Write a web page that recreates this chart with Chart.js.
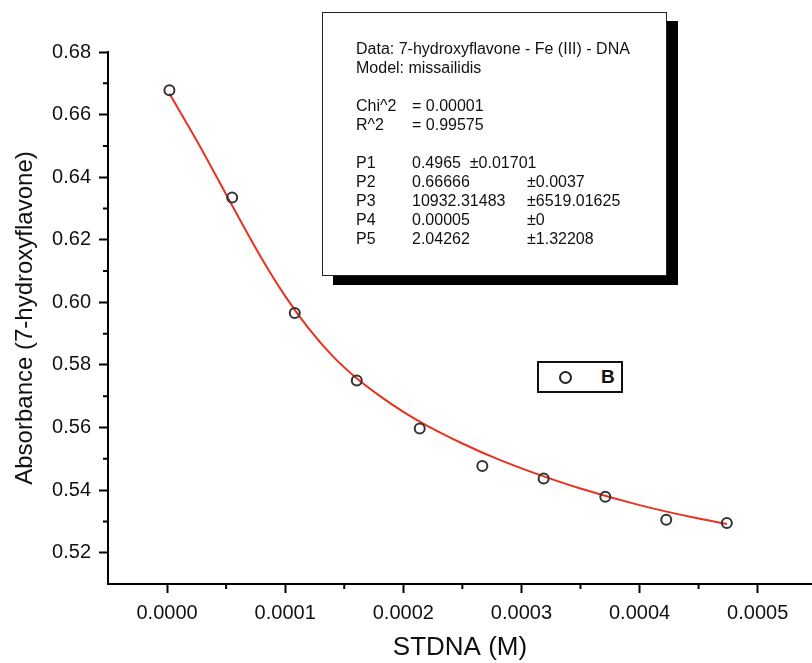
<!DOCTYPE html>
<html>
<head>
<meta charset="utf-8">
<script src="https://cdn.jsdelivr.net/npm/chart.js@4.4.1/dist/chart.umd.min.js"></script>
<style>
    body { margin: 0; background: #fff; font-family: "Liberation Sans", Arial, sans-serif; overflow: hidden; }
    #wrap { position: relative; width: 812px; height: 663px; }
    canvas { display: block; }
    #fitBox {
        position: absolute; left: 322px; top: 12px; width: 343px; height: 262px;
        border: 1.5px solid #222; background: #fff; box-shadow: 11px 9px 0 #000;
        box-sizing: content-box; padding: 0;
    }
    #fitText { position: absolute; left: 33px; top: 26px; font-size: 16px; color: #111; }
    #fitText div { height: 19px; line-height: 19px; white-space: pre; }
    #fitText .c1 { display: inline-block; width: 56px; }
    #fitText .c2 { display: inline-block; width: 115px; }
    #legendBox {
        position: absolute; left: 537px; top: 361px; width: 82px; height: 28px;
        border: 2px solid #111; background: #fff;
    }
    #legendBox .dot {
        position: absolute; left: 20px; top: 8px; width: 9px; height: 9px;
        border: 2px solid #222; border-radius: 50%;
    }
    #legendBox b { position: absolute; left: 62px; top: 3px; font-size: 19px; color: #111; }
</style>
</head>
<body>
<div id="wrap">
    <canvas id="myChart" width="812" height="663"></canvas>
    <div id="fitBox"><div id="fitText"></div></div>
    <div id="legendBox"><span class="dot"></span><b>B</b></div>
</div>
<script>
// measured points (series B)
var concentration = [0.000002, 0.0000551, 0.0001081, 0.0001606, 0.0002139, 0.0002669, 0.0003188, 0.000371, 0.0004226, 0.0004739];
var absorbance = [0.6678, 0.6335, 0.5966, 0.5750, 0.5597, 0.5477, 0.5437, 0.5379, 0.5305, 0.5295];

// fitted curve
var fitX = [0.000002, 0.00003, 0.000055, 0.00008, 0.0001, 0.00012, 0.00014, 0.00016, 0.00018, 0.0002, 0.00022, 0.00025, 0.00028, 0.00031, 0.00035, 0.0004, 0.00045, 0.000474];
var fitY = [0.6667, 0.6484, 0.6310, 0.6141, 0.6020, 0.5916, 0.5829, 0.5759, 0.5701, 0.5650, 0.5606, 0.5549, 0.5499, 0.5456, 0.5405, 0.5352, 0.5309, 0.5292];

// tick labels
var xTicks = [0, 0.0001, 0.0002, 0.0003, 0.0004, 0.0005];
var xMinor = [0.00005, 0.00015, 0.00025, 0.00035, 0.00045];
var yTicks = [0.52, 0.54, 0.56, 0.58, 0.60, 0.62, 0.64, 0.66, 0.68];
var yMinor = [0.53, 0.55, 0.57, 0.59, 0.61, 0.63, 0.65, 0.67];

// fit report
var fitHeader = ["Data: 7-hydroxyflavone - Fe (III) - DNA", "Model: missailidis"];
var statNames = ["Chi^2", "R^2"];
var statValues = ["= 0.00001", "= 0.99575"];
var paramNames = ["P1", "P2", "P3", "P4", "P5"];
var paramValues = ["0.4965", "0.66666", "10932.31483", "0.00005", "2.04262"];
var paramErrors = ["±0.01701", "±0.0037", "±6519.01625", "±0", "±1.32208"];

// build the report box
var box = document.getElementById('fitText');
function addLine(html) {
    var d = document.createElement('div');
    d.innerHTML = html;
    box.appendChild(d);
}
fitHeader.forEach(function (t) { addLine(t); });
addLine(' ');
statNames.forEach(function (n, i) { addLine('<span class="c1">' + n + '</span>' + statValues[i]); });
addLine(' ');
paramNames.forEach(function (n, i) {
    if (i === 0) {
        addLine('<span class="c1">' + n + '</span>' + paramValues[i] + '  ' + paramErrors[i]);
    } else {
        addLine('<span class="c1">' + n + '</span><span class="c2">' + paramValues[i] + '</span>' + paramErrors[i]);
    }
});

var minorTicks = {
    id: 'minorTicks',
    afterDraw: function (chart) {
        var ctx = chart.ctx, x = chart.scales.x, y = chart.scales.y;
        ctx.save();
        ctx.strokeStyle = '#000';
        ctx.lineWidth = 2;
        ctx.beginPath();
        xMinor.forEach(function (v) {
            var px = x.getPixelForValue(v);
            ctx.moveTo(px, x.top);
            ctx.lineTo(px, x.top + 5);
        });
        yMinor.forEach(function (v) {
            var py = y.getPixelForValue(v);
            ctx.moveTo(y.right - 5, py);
            ctx.lineTo(y.right, py);
        });
        ctx.stroke();
        ctx.restore();
    }
};

var ctx = document.getElementById('myChart').getContext('2d');
new Chart(ctx, {
    type: 'scatter',
    data: {
        datasets: [{
                label: 'B',
                data: concentration.map(function (v, i) { return {x: v, y: absorbance[i]}; }),
                pointRadius: 5,
                pointBorderWidth: 2,
                borderColor: '#333',
                backgroundColor: 'rgba(0,0,0,0)',
                showLine: false
            },
            {
                label: 'fit',
                data: fitX.map(function (v, i) { return {x: v, y: fitY[i]}; }),
                showLine: true,
                borderColor: '#e8321f',
                borderWidth: 2,
                pointRadius: 0,
                cubicInterpolationMode: 'monotone'
            }]
    },
    options: {
        responsive: false,
        animation: false,
        devicePixelRatio: 1,
        layout: {autoPadding: false, padding: {top: 52, right: 0, bottom: 0, left: 0}},
        plugins: {legend: {display: false}, tooltip: {enabled: false}},
        scales: {
            x: {
                type: 'linear',
                min: -0.00005,
                max: 0.000546,
                afterBuildTicks: function (scale) {
                    scale.ticks = xTicks.map(function (v) { return {value: v}; });
                },
                afterFit: function (scale) {
                    scale.height = 79;
                    scale.paddingLeft = 0;
                    scale.paddingRight = 0;
                },
                grid: {drawOnChartArea: false, tickLength: 9, tickWidth: 2, tickColor: '#000'},
                border: {display: true, color: '#000', width: 2},
                ticks: {
                    padding: 8,
                    color: '#111',
                    font: {family: 'Liberation Sans', size: 20},
                    maxRotation: 0,
                    callback: function (v) { return Number(v).toFixed(4); }
                },
                title: {
                    display: true,
                    text: 'STDNA (M)',
                    color: '#111',
                    font: {family: 'Liberation Sans', size: 26},
                    padding: {top: 0, bottom: 0}
                }
            },
            y: {
                type: 'linear',
                min: 0.51,
                max: 0.68,
                afterBuildTicks: function (scale) {
                    scale.ticks = yTicks.map(function (v) { return {value: v}; });
                },
                afterFit: function (scale) {
                    scale.width = 108;
                    scale.paddingTop = 0;
                    scale.paddingBottom = 0;
                },
                grid: {drawOnChartArea: false, tickLength: 9, tickWidth: 2, tickColor: '#000'},
                border: {display: true, color: '#000', width: 2},
                ticks: {
                    padding: 8,
                    color: '#111',
                    font: {family: 'Liberation Sans', size: 20},
                    callback: function (v) { return Number(v).toFixed(2); }
                },
                title: {
                    display: true,
                    text: 'Absorbance (7-hydroxyflavone)',
                    color: '#111',
                    font: {family: 'Liberation Sans', size: 24},
                    padding: {top: 11, bottom: 0}
                }
            }
        }
    },
    plugins: [minorTicks]
});
</script>
</body>
</html>
